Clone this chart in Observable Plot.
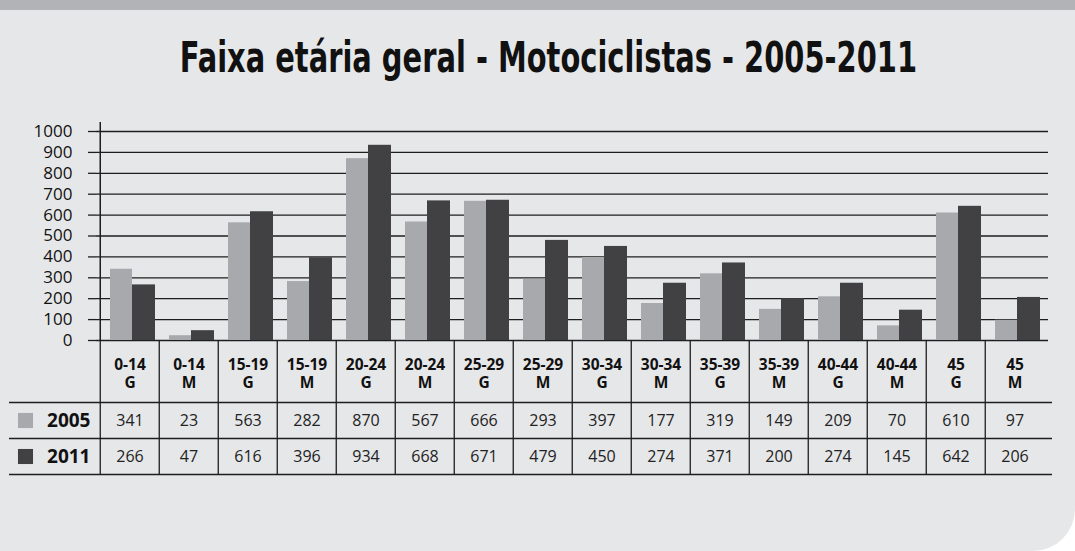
<!DOCTYPE html>
<html>
<head>
<meta charset="utf-8">
<script src="https://cdn.jsdelivr.net/npm/d3@7"></script>
<script src="https://cdn.jsdelivr.net/npm/@observablehq/plot@0.6"></script>
<style>
  html, body { margin: 0; padding: 0; background: #ffffff; }
  #card { position: relative; width: 1075px; height: 551px; background: #e6e7e9;
          border-bottom-right-radius: 42px; overflow: hidden; }
  #band { position: absolute; left: 0; top: 0; width: 1075px; height: 10px; background: #b1b3b6; }
  #title { position: absolute; left: 11px; top: 37px; width: 1075px; text-align: center;
           font-family: "DejaVu Sans Condensed", "Liberation Sans Narrow", sans-serif; font-weight: bold;
           font-size: 42px; line-height: 42px; color: #111; white-space: nowrap;
           transform: scaleX(0.765); transform-origin: 537px 0; }
  #chart, #table { position: absolute; left: 0; }
  #chart { top: 100px; }
  #table { top: 340px; }
  svg { overflow: visible; }
</style>
</head>
<body>
<div id="card">
  <div id="band"></div>
  <div id="title">Faixa etária geral - Motociclistas - 2005-2011</div>
  <div id="chart"></div>
  <div id="table"></div>
</div>
<script>
const categories = ["0-14 G","0-14 M","15-19 G","15-19 M","20-24 G","20-24 M","25-29 G","25-29 M",
                    "30-34 G","30-34 M","35-39 G","35-39 M","40-44 G","40-44 M","45 G","45 M"];
const years = ["2005", "2011"];
const values2005 = [341, 23, 563, 282, 870, 567, 666, 293, 397, 177, 319, 149, 209, 70, 610, 97];
const values2011 = [266, 47, 616, 396, 934, 668, 671, 479, 450, 274, 371, 200, 274, 145, 642, 206];
const yTicks = [0, 100, 200, 300, 400, 500, 600, 700, 800, 900, 1000];
const colors = ["#a8a9ac", "#414143"];

const rows = [];
categories.forEach((c, i) => {
  rows.push({cat: c, year: years[0], value: values2005[i]});
  rows.push({cat: c, year: years[1], value: values2011[i]});
});

const W = 1075, ML = 96, MR = 27;
const bw = (W - ML - MR) / categories.length;
const lineColor = "#1e1e1e";

const chart = Plot.plot({
  width: W, height: 241,
  marginTop: 31, marginBottom: 1, marginLeft: ML, marginRight: MR,
  style: {background: "transparent", fontFamily: "Open Sans, sans-serif", color: "#111", overflow: "visible"},
  x: {type: "band", domain: categories, padding: 0, axis: null},
  y: {domain: [0, 1000], axis: null},
  color: {domain: years, range: colors},
  marks: [
    Plot.gridY(yTicks, {stroke: lineColor, strokeOpacity: 1, strokeWidth: 1.3}),
    Plot.axisY(yTicks, {tickSize: 8, tickPadding: 16, fontSize: 17, stroke: lineColor, strokeWidth: 1.3,
      tickFormat: d => String(d), label: null}),
    Plot.barY(rows.filter(d => d.year === years[0]), {x: "cat", y: "value", fill: "year", insetLeft: 10, insetRight: 27}),
    Plot.barY(rows.filter(d => d.year === years[1]), {x: "cat", y: "value", fill: "year", insetLeft: 32, insetRight: 4}),
    Plot.ruleX([categories[0]], {x: d => d, dx: -bw / 2, insetTop: -9, stroke: lineColor, strokeWidth: 1.5})
  ]
});
document.getElementById("chart").appendChild(chart);

const table = Plot.plot({
  width: W, height: 136,
  marginTop: 62, marginBottom: 2, marginLeft: ML, marginRight: MR,
  style: {background: "transparent", fontFamily: "Open Sans, sans-serif", color: "#111", overflow: "visible"},
  x: {type: "band", domain: categories, padding: 0, axis: null},
  y: {type: "band", domain: years, padding: 0, axis: null},
  color: {domain: years, range: colors},
  marks: [
    Plot.ruleX(categories, {x: d => d, dx: -bw / 2, insetTop: -62, stroke: lineColor, strokeWidth: 1.3}),
    Plot.ruleY(years, {y: d => d, dy: -18, insetLeft: -87, insetRight: -4, stroke: lineColor, strokeWidth: 1.3}),
    Plot.ruleY([years[1]], {y: d => d, dy: 18, insetLeft: -87, insetRight: -4, stroke: lineColor, strokeWidth: 1.3}),
    Plot.text(categories, {x: d => d, text: d => d.split(" ").join("\n"), frameAnchor: "top", dy: -29,
      lineAnchor: "middle", lineHeight: 1.12, fontWeight: "bold", fontSize: 15.5, fill: "#111"}),
    Plot.text(rows, {x: "cat", y: "year", text: "value", fontSize: 16, fill: "#222"}),
    Plot.dot(years, {y: d => d, frameAnchor: "left", dx: -71, symbol: "square", r: 8.5, fill: d => d, stroke: "none"}),
    Plot.text(years, {y: d => d, text: d => d, frameAnchor: "left", dx: -6, textAnchor: "end",
      fontWeight: "bold", fontSize: 19, fill: "#111"})
  ]
});
document.getElementById("table").appendChild(table);
</script>
</body>
</html>
